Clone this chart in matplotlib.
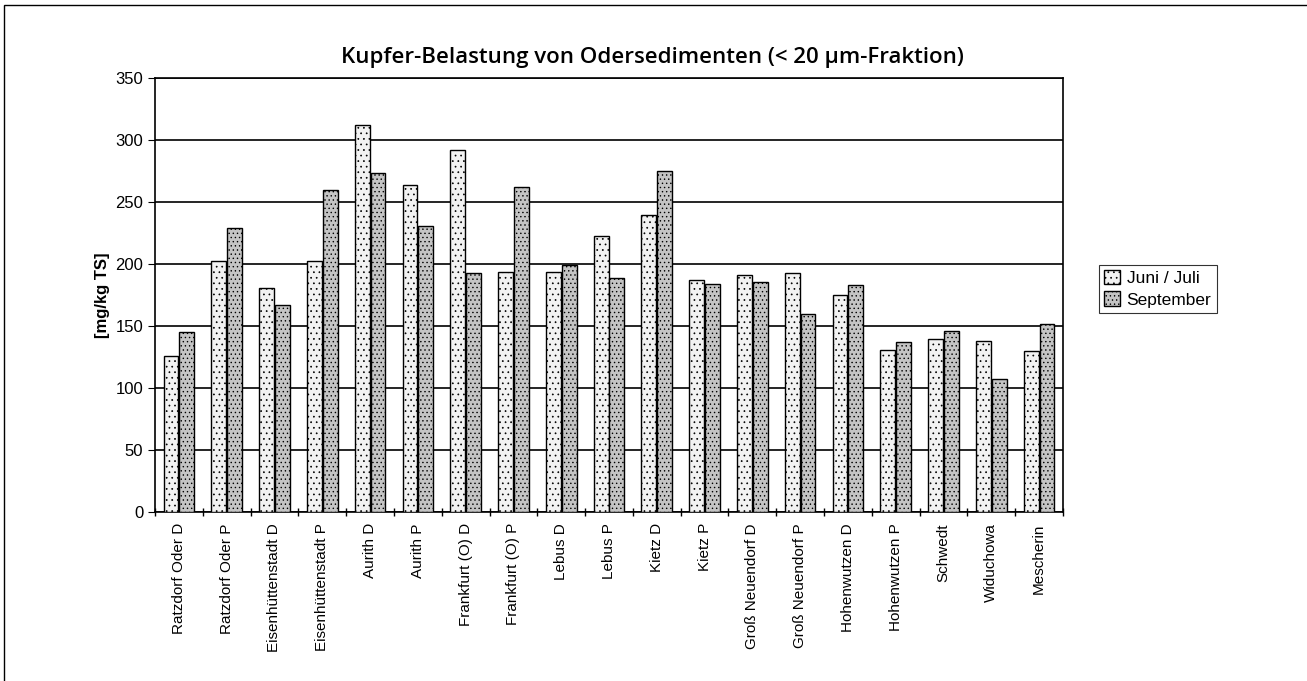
import numpy as np
import matplotlib.pyplot as plt
from matplotlib.patches import Rectangle

stations = [
    "Ratzdorf Oder D", "Ratzdorf Oder P", "Eisenhüttenstadt D", "Eisenhüttenstadt P",
    "Aurith D", "Aurith P", "Frankfurt (O) D", "Frankfurt (O) P", "Lebus D", "Lebus P",
    "Kietz D", "Kietz P", "Groß Neuendorf D", "Groß Neuendorf P", "Hohenwutzen D",
    "Hohenwutzen P", "Schwedt", "Widuchowa", "Mescherin",
]
juni_juli = [126, 203, 181, 203, 312, 264, 292, 194, 194, 223, 240, 187, 191, 193, 175, 131, 140, 138, 130]
september = [145, 229, 167, 260, 274, 231, 193, 262, 199, 189, 275, 184, 186, 160, 183, 137, 146, 107, 152]

plt.rcParams["hatch.color"] = "#8a8a8a"
plt.rcParams["hatch.linewidth"] = 0.5
plt.rcParams["font.family"] = ["Liberation Sans", "DejaVu Sans"]

fig = plt.figure(figsize=(13.07, 6.81), dpi=100)
ax = fig.add_axes([0.1186, 0.248, 0.6947, 0.637])

x = np.arange(len(stations))
w = 0.31
ax.bar(x - w / 2 - 0.01, juni_juli, w, color="#f2f2f2", edgecolor="black", linewidth=1.0,
       hatch="...", label="Juni / Juli", zorder=3)
ax.bar(x + w / 2 + 0.01, september, w, color="#c4c4c4", edgecolor="black", linewidth=1.0,
       hatch="....", label="September", zorder=3)

ax.set_xlim(-0.5, len(stations) - 0.5)
ax.set_ylim(0, 350)
ax.set_yticks(range(0, 351, 50))
ax.yaxis.grid(True, color="black", linewidth=1.2, zorder=0)
ax.set_axisbelow(True)
ax.set_xticks(x)
ax.set_xticklabels(stations, rotation=90, fontsize=11)
ax.set_xticks(np.arange(-0.5, len(stations), 1), minor=True)
ax.tick_params(axis="x", which="major", length=0, pad=8)
ax.tick_params(axis="x", which="minor", length=6, direction="inout", width=1)
ax.tick_params(axis="y", labelsize=12, direction="out", length=5)
for s in ax.spines.values():
    s.set_linewidth(1.2)

ax.set_ylabel("[mg/kg TS]", fontsize=12, fontweight="bold")
fig.text(0.499, 0.916, "Kupfer-Belastung von Odersedimenten (< 20 µm-Fraktion)", fontsize=16,
         fontfamily="Open Sans", fontweight="semibold", ha="center", va="center")

leg = ax.legend(loc="center left", bbox_to_anchor=(1.03, 0.515), fontsize=12.5,
                frameon=True, fancybox=False, edgecolor="black", borderpad=0.3,
                handlelength=0.9, handleheight=0.9, handletextpad=0.4, labelspacing=0.3)
leg.get_frame().set_linewidth(0.8)

# outer frame of the scanned figure
fig.patches.append(Rectangle((0.003, -0.1), 1.2, 1.093, transform=fig.transFigure,
                             fill=False, edgecolor="black", linewidth=1.0))

fig.savefig("out.png", dpi=100)
